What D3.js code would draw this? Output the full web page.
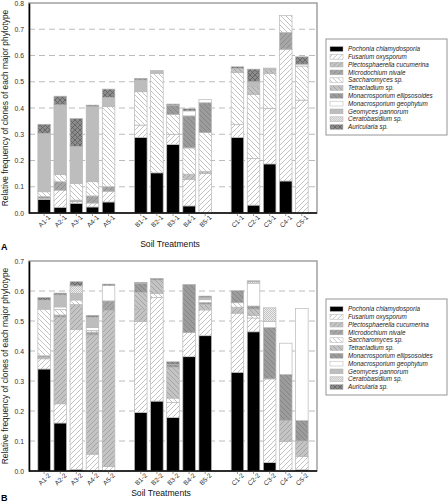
<!DOCTYPE html>
<html><head><meta charset="utf-8">
<script src="https://cdn.jsdelivr.net/npm/d3@7"></script>
<style>body{margin:0;background:#fff}svg{display:block;font-family:"Liberation Sans",Arial,sans-serif}</style>
</head><body><svg id="c" width="448" height="504"></svg>
<script>
// ---------- DATA ----------
const categoriesA = ["A1-1","A2-1","A3-1","A4-1","A5-1","B1-1","B2-1","B3-1","B4-1","B5-1","C1-1","C2-1","C3-1","C4-1","C5-1"];
const categoriesB = ["A1-2","A2-2","A3-2","A4-2","A5-2","B1-2","B2-2","B3-2","B4-2","B5-2","C1-2","C2-2","C3-2","C4-2","C5-2"];
const species = ["Pochonia chlamydosporia","Fusarium oxysporum","Plectosphaerella cucumerina","Microdochium nivale","Saccharomyces sp.","Tetracladium sp.","Monacrosporium ellipsosoides","Monacrosporium geophytum","Geomyces pannorum","Ceratobasidium sp.","Auricularia sp."];
const yTicksA = [0,0.1,0.2,0.3,0.4,0.5,0.6,0.7,0.8];
const yTicksB = [0,0.1,0.2,0.3,0.4,0.5,0.6,0.7];

// Panel A values (one array per phylotype, in categoriesA order)
const pochoniaA      = [0.052,0.022,0.037,0.023,0.042, 0.288,0.153,0.261,0.027,0,     0.288,0.030,0.187,0.122,0];
const fusariumA      = [0.004,0.065,0.006,0.015,0.041, 0.047,0,    0.039,0.100,0.150, 0.050,0.178,0.212,0.502,0.430];
const plectoA        = [0,0,0,0,0,                     0,0,0,0.021,0.008,             0,0,0,0,0];
const microdochiumA  = [0.007,0.032,0.006,0.027,0.017, 0,0,0,0,0,                     0,0,0,0.064,0];
const saccharomycesA = [0.018,0.028,0.064,0.055,0.305, 0.127,0.378,0.076,0.100,0.148, 0.197,0.244,0.133,0.064,0.130];
const tetracladiumA  = [0,0,0,0,0,                     0,0,0,0,0,                     0.016,0.030,0.014,0,0];
const mEllipA        = [0,0,0,0,0,                     0,0,0.035,0.122,0.114,         0,0,0,0,0];
const mGeoA          = [0,0,0,0,0,                     0,0.002,0,0.019,0.012,         0,0,0,0,0.007];
const geomycesA      = [0.222,0.265,0.140,0.285,0.035, 0.045,0.010,0,0,0,             0,0.018,0.006,0,0];
const ceratoA        = [0,0,0,0,0,                     0,0,0,0,0,                     0,0,0,0,0];
const auriculariaA   = [0.035,0.033,0.107,0.006,0.032, 0.006,0,0.004,0.008,0,         0.006,0.048,0,0,0.028];

// Panel B values
const pochoniaB      = [0.340,0.160,0.005,0,0,         0.195,0.233,0.178,0.381,0.451, 0.329,0.464,0.028,0,0.004];
const fusariumB      = [0.034,0.064,0.467,0.056,0.015, 0.303,0.345,0.050,0.080,0.086, 0.197,0.046,0.279,0.098,0.044];
const plectoB        = [0.005,0.288,0.083,0.397,0.520, 0.042,0,0,0,0,                 0.020,0,0,0.070,0.052];
const microdochiumB  = [0.005,0.008,0,0.010,0.032,     0,0,0,0,0,                     0,0,0,0,0];
const saccharomycesB = [0.155,0.018,0.015,0.005,0,     0,0.014,0.015,0,0,             0.015,0.008,0,0,0];
const tetracladiumB  = [0,0,0,0,0,                     0.055,0.045,0.103,0,0.019,     0,0.022,0,0,0];
const mEllipB        = [0,0,0,0,0,                     0.030,0,0.010,0.161,0.006,     0.040,0.010,0.171,0.154,0.068];
const mGeoB          = [0.003,0.009,0,0.010,0.051,     0,0,0,0,0.009,                 0,0.076,0.020,0.104,0.374];
const geomycesB      = [0.028,0.040,0.022,0.035,0,     0,0,0,0,0.007,                 0,0,0,0,0];
const ceratoB        = [0,0,0.025,0,0,                 0,0,0,0,0,                     0,0.005,0.046,0,0];
const auriculariaB   = [0.008,0.006,0.014,0.006,0.005, 0.004,0.005,0.008,0,0.005,     0,0.003,0,0,0];

const seriesA = [pochoniaA,fusariumA,plectoA,microdochiumA,saccharomycesA,tetracladiumA,mEllipA,mGeoA,geomycesA,ceratoA,auriculariaA];
const seriesB = [pochoniaB,fusariumB,plectoB,microdochiumB,saccharomycesB,tetracladiumB,mEllipB,mGeoB,geomycesB,ceratoB,auriculariaB];

// ---------- DRAW ----------
const svg = d3.select("#c");
const defs = svg.append("defs");
function hatch(id, bg, line, dir) {
  const p = defs.append("pattern").attr("id", id).attr("patternUnits","userSpaceOnUse")
    .attr("width",5).attr("height",5);
  p.append("rect").attr("width",5).attr("height",5).attr("fill",bg);
  if (dir === "/") {
    p.append("path").attr("d","M0,5 L5,0 M-1,1 L1,-1 M4,6 L6,4").attr("stroke",line).attr("stroke-width",0.6);
  } else if (dir === "\\") {
    p.append("path").attr("d","M0,0 L5,5 M-1,4 L1,6 M4,-1 L6,1").attr("stroke",line).attr("stroke-width",0.6);
  } else if (dir === "x") {
    p.append("path").attr("d","M0,5 L5,0 M0,0 L5,5").attr("stroke",line).attr("stroke-width",0.8);
  } else if (dir === "dot") {
    p.attr("width",2).attr("height",2);
    p.select("rect").attr("width",2).attr("height",2);
    p.append("rect").attr("width",1).attr("height",1).attr("fill",line);
    p.append("rect").attr("x",1).attr("y",1).attr("width",1).attr("height",1).attr("fill",line);
  }
}
hatch("p1","#ffffff","#9a9a9a","/");
hatch("p2","#c4c4c4","#8e8e8e","/");
hatch("p3","#a6a6a6","#7e7e7e","/");
hatch("p4","#ffffff","#9a9a9a","\\");
hatch("p5","#c4c4c4","#8e8e8e","\\");
hatch("p6","#9c9c9c","#767676","\\");
hatch("p9","#eeeeee","#c2c2c2","dot");
hatch("p10","#8c8c8c","#5e5e5e","x");
const fills = ["#000000","url(#p1)","url(#p2)","url(#p3)","url(#p4)","url(#p5)","url(#p6)","#ffffff","#bdbdbd","url(#p9)","url(#p10)"];

const X0 = 29, X1 = 317;

function panel(cats, series, maxV, ticks, yTop, yBot, letter, legendTop, titleX, titleY, letterY) {
  const slots = cats.slice(0,5).concat(["gap1"], cats.slice(5,10), ["gap2"], cats.slice(10));
  const x = d3.scaleBand().domain(slots).range([X0, X1]).paddingInner(0.22).paddingOuter(0.55);
  const y = d3.scaleLinear().domain([0, maxV]).range([yBot, yTop]);
  const g = svg.append("g");

  g.selectAll(".grid").data(ticks.filter(t => t > 0 && t < maxV - 1e-9)).enter().append("line")
    .attr("x1", X0).attr("x2", X1).attr("y1", d => y(d)).attr("y2", d => y(d))
    .attr("stroke","#b4b4b4").attr("stroke-width",0.9).attr("stroke-dasharray","6,4");

  g.append("rect").attr("x",X0).attr("y",yTop).attr("width",X1-X0).attr("height",yBot-yTop)
    .attr("fill","none").attr("stroke","#9a9a9a").attr("stroke-width",1.4);

  const rows = cats.map((c,i) => { const r = {cat:c}; species.forEach((s,k) => r[s] = series[k][i]); return r; });
  const stack = d3.stack().keys(species)(rows);
  stack.forEach((layer,k) => {
    g.append("g").selectAll("rect").data(layer.filter(d => d[1]-d[0] > 0)).enter().append("rect")
      .attr("x", d => x(d.data.cat)).attr("width", x.bandwidth())
      .attr("y", d => y(d[1])).attr("height", d => y(d[0]) - y(d[1]))
      .attr("fill", fills[k]).attr("stroke","#b8b8b8").attr("stroke-width",0.7);
  });

  const yAxis = d3.axisLeft(y).tickValues(ticks).tickFormat(d3.format(".1f")).tickSize(0).tickPadding(5);
  const ya = g.append("g").attr("transform",`translate(${X0},0)`).call(yAxis);
  ya.select(".domain").attr("stroke","#000").attr("stroke-width",1.6);
  ya.selectAll("text").attr("font-size",6.8).attr("fill","#333");

  const xAxis = d3.axisBottom(x).tickValues(cats).tickSize(3).tickPadding(2);
  const xa = g.append("g").attr("transform",`translate(0,${yBot})`).call(xAxis);
  xa.select(".domain").attr("stroke","#000").attr("stroke-width",1.6).attr("d",`M${X0},0H${X1}`);
  xa.selectAll(".tick line").attr("stroke","#555").attr("stroke-width",0.6);
  xa.selectAll("text").attr("font-size",6.6).attr("fill","#333")
    .attr("text-anchor","end").attr("dx","0.2em").attr("dy","0.5em")
    .attr("transform","rotate(-45)");

  g.append("text").attr("transform",`translate(8,${(yTop+yBot)/2}) rotate(-90)`)
    .attr("text-anchor","middle").attr("font-size",8.4).attr("fill","#222")
    .text("Relative frequency of clones of each major phylotype");
  g.append("text").attr("x",titleX).attr("y",titleY).attr("text-anchor","middle")
    .attr("font-size",8.6).attr("fill","#111").text("Soil Treatments");
  g.append("text").attr("x",1).attr("y",letterY).attr("font-size",9).attr("font-weight","bold").text(letter);

  const lg = g.append("g");
  lg.append("rect").attr("x",326).attr("y",legendTop).attr("width",121).attr("height",96)
    .attr("fill","#fff").attr("stroke","#8a8a8a").attr("stroke-width",0.9);
  const it = lg.selectAll(".it").data(species).enter().append("g")
    .attr("transform",(d,i) => `translate(330,${legendTop + 10 + i*7.8})`);
  it.append("rect").attr("x",0).attr("y",-2.4).attr("width",13).attr("height",4.8)
    .attr("fill",(d,i) => fills[i]).attr("stroke","#b0b0b0").attr("stroke-width",0.5);
  it.append("text").attr("x",18).attr("y",2.2).attr("font-size",6.3).attr("font-style","italic")
    .attr("fill","#222").text(d => d);
}

panel(categoriesA, seriesA, 0.8, yTicksA, 3, 213, "A", 39, 170, 247, 250);
panel(categoriesB, seriesB, 0.7, yTicksB, 261, 471, "B", 299, 161, 496, 501);
</script></body></html>
